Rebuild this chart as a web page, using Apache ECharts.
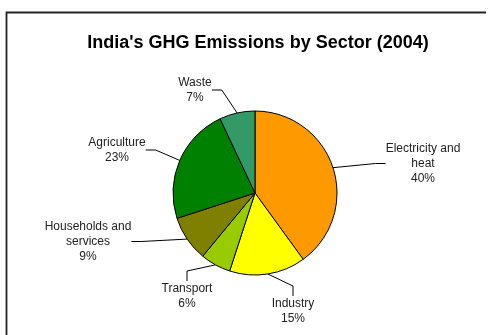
<!DOCTYPE html>
<html>
<head>
<meta charset="utf-8">
<script src="https://cdn.jsdelivr.net/npm/echarts@6/dist/echarts.min.js"></script>
<style>
  html, body { margin: 0; padding: 0; background: #fff; }
  #chart { width: 488px; height: 335px; }
</style>
</head>
<body>
<div id="chart"></div>
<script>
// Sector shares of India's greenhouse gas emissions, 2004 (percent)
const sectors = ['Electricity and\nheat', 'Industry', 'Transport', 'Households and\nservices', 'Agriculture', 'Waste'];
const shares = [40, 15, 6, 9, 23, 7];
const sliceColors = ['#FF9900', '#FFFF00', '#99CC00', '#808000', '#008000', '#339966'];

// Where each label block sits (centre x, top y), in slice order
const labelSpots = [
  [423, 141],
  [293, 296],
  [187, 281],
  [88, 219],
  [117, 135],
  [195, 75]
];

const chart = echarts.init(document.getElementById('chart'), null, { renderer: 'canvas' });

chart.setOption({
  animation: false,
  backgroundColor: '#ffffff',
  title: {
    text: "India's GHG Emissions by Sector (2004)",
    left: 253,
    top: 29,
    textAlign: 'center',
    textStyle: {
      fontFamily: 'Liberation Sans, Arial, sans-serif',
      fontSize: 18,
      fontWeight: 'bold',
      color: '#000'
    }
  },
  graphic: [{
    type: 'polyline',
    shape: { points: [[6.5, 340], [6.5, 12.5], [486, 12.5]] },
    style: { stroke: '#222', lineWidth: 1.8, fill: null },
    silent: true
  }],
  series: [{
    type: 'pie',
    center: [255, 193],
    radius: 82,
    startAngle: 90,
    clockwise: true,
    data: sectors.map((name, i) => ({
      name,
      value: shares[i],
      itemStyle: { color: sliceColors[i] }
    })),
    itemStyle: { borderColor: '#000', borderWidth: 1 },
    label: {
      formatter: '{b}\n{c}%',
      fontFamily: 'Liberation Sans, Arial, sans-serif',
      fontSize: 12,
      lineHeight: 15,
      color: '#222',
      align: 'center'
    },
    labelLine: {
      show: true,
      length: 15,
      length2: 10,
      lineStyle: { color: '#000', width: 1 }
    },
    labelLayout: function (params) {
      const spot = labelSpots[params.dataIndex];
      return {
        x: spot[0],
        y: spot[1],
        align: 'center',
        verticalAlign: 'top'
      };
    },
    emphasis: { disabled: true }
  }]
});
</script>
</body>
</html>
